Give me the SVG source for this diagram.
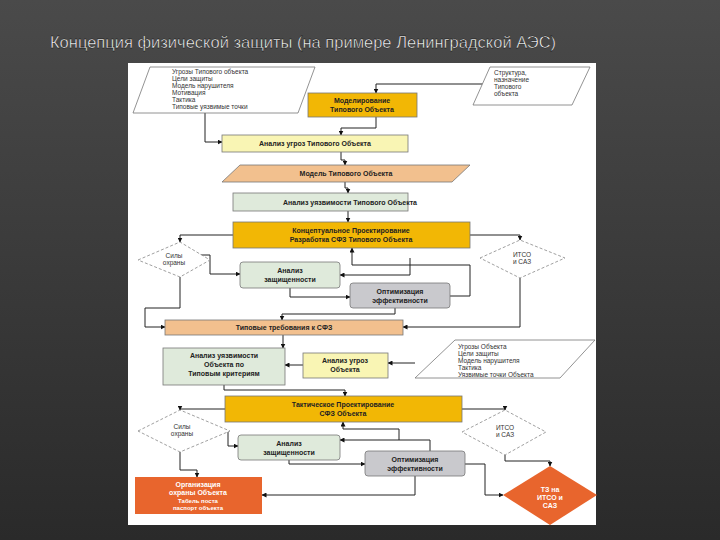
<svg xmlns="http://www.w3.org/2000/svg" width="720" height="540" viewBox="0 0 720 540">
<defs>
<linearGradient id="bg" x1="0" y1="0" x2="0" y2="1"><stop offset="0" stop-color="#4a4a4a"/><stop offset="1" stop-color="#2a2a2a"/></linearGradient>
<marker id="a" viewBox="0 0 10 10" refX="9" refY="5" markerWidth="5" markerHeight="5" orient="auto"><path d="M0,0L10,5L0,10z" fill="#111"/></marker>
<style>
.t{font-family:"Liberation Sans",Arial,sans-serif;font-size:7px;fill:#222;text-anchor:middle;font-weight:bold}
.s{font-family:"Liberation Sans",Arial,sans-serif;font-size:6.5px;fill:#333}
.w{fill:#fff}
.b{stroke:#777;stroke-width:0.8}
.or{fill:#f2b705}.ly{fill:#f9f5b4}.tn{fill:#f2c08e}.gr{fill:#dfeadb}.gy{fill:#c9c9cd}.rd{fill:#e8652d}
.d{fill:#fff;stroke:#888;stroke-dasharray:3,2;stroke-width:0.8}
.c path{fill:none;stroke:#222;stroke-width:1;marker-end:url(#a)}
</style>
</defs>
<rect width="720" height="540" fill="url(#bg)"/>
<text x="50" y="48" font-family="Liberation Sans,Arial,sans-serif" font-size="16.5" fill="#fff" stroke="#000" stroke-width="0.4">Концепция физической защиты (на примере Ленинградской АЭС)</text>
<rect x="128" y="63" width="468" height="462" fill="#fff"/>

<g class="c">
<path d="M205,113V142H222"/>
<path d="M490,84H376V93"/>
<path d="M376,117V128H341V135"/>
<path d="M341,152V160H345V165"/>
<path d="M345,182V188H348V193"/>
<path d="M348,211V222"/>
<path d="M233,235H180V242"/>
<path d="M470,235H520V240"/>
<path d="M200,255H210V274H240"/>
<path d="M290,288V297H350"/>
<path d="M450,296H470V265H352V248"/>
<path d="M410,258V275H340"/>
<path d="M180,277V308H145V327H165"/>
<path d="M520,278V327H403"/>
<path d="M395,308V314H282V320"/>
<path d="M283,335V348"/>
<path d="M415,363H388"/>
<path d="M303,365H285"/>
<path d="M224,385V390H345V396"/>
<path d="M225,409H180V410"/>
<path d="M462,409H505V410"/>
<path d="M205,431H228V446H238"/>
<path d="M289,460V464H365"/>
<path d="M465,464H485V495H503"/>
<path d="M430,451V440H340"/>
<path d="M399,440V429H343V422"/>
<path d="M180,452V470H197V477"/>
<path d="M415,476V495H262"/>
<path d="M505,455V461H550V466"/>
</g>

<g id="in1"><path class="w b" d="M150,67H315L298,113H133Z"/>
<text class="s" x="172" y="74">Угрозы Типового объекта</text><text class="s" x="172" y="81">Цели защиты</text><text class="s" x="172" y="88">Модель нарушителя</text><text class="s" x="172" y="95">Мотивация</text><text class="s" x="172" y="102">Тактика</text><text class="s" x="172" y="109">Типовые уязвимые точки</text></g>
<g id="in2"><path class="w b" d="M490,67H590L572,105H473Z"/>
<text class="s" x="494" y="75">Структура,</text><text class="s" x="494" y="82">назначение</text><text class="s" x="494" y="89">Типового</text><text class="s" x="494" y="96">объекта</text></g>
<g id="n1"><rect class="or b" x="308" y="93" width="109" height="24"/><text class="t" x="362" y="103">Моделирование</text><text class="t" x="362" y="112">Типового Объекта</text></g>
<g id="n2"><rect class="ly b" x="222" y="135" width="186" height="17"/><text class="t" x="315" y="146">Анализ угроз Типового Объекта</text></g>
<g id="n3"><path class="tn b" d="M240,165H470L452,182H222Z"/><text class="t" x="346" y="176">Модель Типового Объекта</text></g>
<g id="n4"><rect class="gr b" x="233" y="193" width="175" height="18"/><text class="t" x="350" y="205">Анализ уязвимости Типового Объекта</text></g>
<g id="n5"><rect class="or b" x="233" y="222" width="237" height="26"/><text class="t" x="351" y="233">Концептуальное Проектирование</text><text class="t" x="351" y="242">Разработка СФЗ Типового Объекта</text></g>
<g id="d1"><path class="d" d="M138,260L180,242L210,260L180,277Z"/><text class="s" x="174" y="258" text-anchor="middle">Силы</text><text class="s" x="174" y="265" text-anchor="middle">охраны</text></g>
<g id="d2"><path class="d" d="M480,258L520,240L565,258L520,278Z"/><text class="s" x="522" y="257" text-anchor="middle">ИТСО</text><text class="s" x="522" y="264" text-anchor="middle">и САЗ</text></g>
<g id="n6"><rect class="gr b" x="240" y="262" width="100" height="26" rx="3"/><text class="t" x="290" y="273">Анализ</text><text class="t" x="290" y="282">защищенности</text></g>
<g id="n7"><rect class="gy b" x="350" y="283" width="100" height="25" rx="3"/><text class="t" x="400" y="294">Оптимизация</text><text class="t" x="400" y="303">эффективности</text></g>
<g id="n8"><rect class="tn b" x="165" y="320" width="238" height="15"/><text class="t" x="284" y="330">Типовые требования к СФЗ</text></g>
<g id="n9"><rect class="gr b" x="163" y="348" width="122" height="37"/><text class="t" x="224" y="358">Анализ уязвимости</text><text class="t" x="224" y="367">Объекта по</text><text class="t" x="224" y="376">Типовым критериям</text></g>
<g id="n10"><rect class="ly b" x="303" y="353" width="85" height="25"/><text class="t" x="345" y="363">Анализ угроз</text><text class="t" x="345" y="372">Объекта</text></g>
<g id="in3"><path class="w b" d="M455,340H595L560,378H415Z"/>
<text class="s" x="458" y="349">Угрозы Объекта</text><text class="s" x="458" y="356">Цели защиты</text><text class="s" x="458" y="363">Модель нарушителя</text><text class="s" x="458" y="370">Тактика</text><text class="s" x="458" y="377">Уязвимые точки Объекта</text></g>
<g id="n11"><rect class="or b" x="225" y="396" width="237" height="26"/><text class="t" x="343" y="407">Тактическое Проектирование</text><text class="t" x="343" y="416">СФЗ Объекта</text></g>
<g id="d3"><path class="d" d="M138,431L180,410L230,431L180,452Z"/><text class="s" x="182" y="429" text-anchor="middle">Силы</text><text class="s" x="182" y="436" text-anchor="middle">охраны</text></g>
<g id="d4"><path class="d" d="M462,432L505,410L546,432L505,455Z"/><text class="s" x="505" y="430" text-anchor="middle">ИТСО</text><text class="s" x="505" y="437" text-anchor="middle">и САЗ</text></g>
<g id="n12"><rect class="gr b" x="238" y="435" width="102" height="25" rx="3"/><text class="t" x="289" y="446">Анализ</text><text class="t" x="289" y="455">защищенности</text></g>
<g id="n13"><rect class="gy b" x="365" y="451" width="100" height="25" rx="3"/><text class="t" x="415" y="462">Оптимизация</text><text class="t" x="415" y="471">эффективности</text></g>
<g id="n14"><rect class="rd" x="135" y="477" width="127" height="37"/><text class="t" x="198" y="487" style="fill:#fff">Организация</text><text class="t" x="198" y="495" style="fill:#fff">охраны Объекта</text><text class="t" x="198" y="503" style="fill:#fff;font-size:6px">Табель поста</text><text class="t" x="198" y="510" style="fill:#fff;font-size:6px">паспорт объекта</text></g>
<g id="n15"><path class="rd" d="M503,495L550,466L597,495L550,525Z"/><text class="t" x="550" y="492" style="fill:#fff">ТЗ на</text><text class="t" x="550" y="500" style="fill:#fff">ИТСО и</text><text class="t" x="550" y="508" style="fill:#fff">САЗ</text></g>
</svg>
